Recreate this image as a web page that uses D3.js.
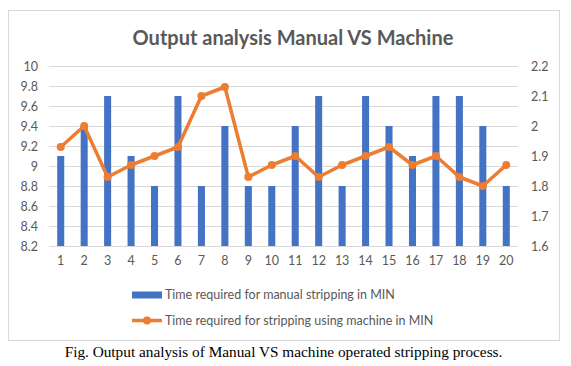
<!DOCTYPE html>
<html>
<head>
<meta charset="utf-8">
<script src="https://cdn.jsdelivr.net/npm/d3@7"></script>
<style>
  body { margin: 0; background: #fff; }
  svg { display: block; }
</style>
</head>
<body>
<div id="chart"></div>
<script>
// chart data
const categories = d3.range(1, 21).map(String);
const manualTimes = [9.1, 9.4, 9.7, 9.1, 8.8, 9.7, 8.8, 9.4, 8.8, 8.8,
                     9.4, 9.7, 8.8, 9.7, 9.4, 9.1, 9.7, 9.7, 9.4, 8.8];
const machineTimes = [1.93, 2.0, 1.83, 1.87, 1.9, 1.93, 2.1, 2.13, 1.83, 1.87,
                      1.9, 1.83, 1.87, 1.9, 1.93, 1.87, 1.9, 1.83, 1.8, 1.87];
const leftTicks = [8.2, 8.4, 8.6, 8.8, 9, 9.2, 9.4, 9.6, 9.8, 10];
const rightTicks = [1.6, 1.7, 1.8, 1.9, 2, 2.1, 2.2];
const seriesNames = ["Time required for manual stripping in MIN",
                     "Time required for stripping using machine in MIN"];
const chartTitle = "Output analysis Manual VS Machine";
const caption = "Fig. Output analysis of Manual VS machine operated stripping process.";

const W = 571, H = 366;
const plot = {left: 49, right: 518, top: 66, bottom: 246};
const blue = "#4472c4", orange = "#ed7d31", grey = "#595959", grid = "#d9d9d9";
const uiFont = "Lato, 'Open Sans', sans-serif";

const svg = d3.select("#chart").append("svg")
  .attr("width", W)
  .attr("height", H);

// chart frame
svg.append("rect")
  .attr("x", 8.5).attr("y", 10.5)
  .attr("width", 551).attr("height", 330)
  .attr("fill", "#fff")
  .attr("stroke", grid);

const x = d3.scaleBand()
  .domain(categories)
  .range([plot.left, plot.right])
  .paddingInner(0.7)
  .paddingOuter(0.35);

const yLeft = d3.scaleLinear().domain([8.2, 10]).range([plot.bottom, plot.top]);
const yRight = d3.scaleLinear().domain([1.6, 2.2]).range([plot.bottom, plot.top]);

// gridlines
svg.append("g")
  .selectAll("line")
  .data(leftTicks)
  .enter().append("line")
    .attr("x1", plot.left).attr("x2", plot.right)
    .attr("y1", d => Math.round(yLeft(d)) + 0.5)
    .attr("y2", d => Math.round(yLeft(d)) + 0.5)
    .attr("stroke", grid)
    .attr("stroke-width", 1);

// left axis
const leftAxis = svg.append("g")
  .attr("transform", `translate(${plot.left - 11},0)`)
  .call(d3.axisLeft(yLeft).tickValues(leftTicks).tickSize(0).tickPadding(0).tickFormat(d3.format("")))
  .call(g => g.select(".domain").remove());

// right axis
const rightAxis = svg.append("g")
  .attr("transform", `translate(${plot.right + 13},0)`)
  .call(d3.axisRight(yRight).tickValues(rightTicks).tickSize(0).tickPadding(0).tickFormat(d3.format("")))
  .call(g => g.select(".domain").remove());

// bottom axis
const bottomAxis = svg.append("g")
  .attr("transform", `translate(0,${plot.bottom + 10})`)
  .call(d3.axisBottom(x).tickSize(0).tickPadding(0))
  .call(g => g.select(".domain").remove());

[leftAxis, rightAxis, bottomAxis].forEach(g => g.selectAll("text")
  .attr("fill", grey)
  .style("font-family", uiFont)
  .style("font-size", "12.5px"));

// bars
svg.append("g")
  .selectAll("rect")
  .data(manualTimes)
  .enter().append("rect")
    .attr("x", (d, i) => x(categories[i]))
    .attr("y", d => yLeft(d))
    .attr("width", x.bandwidth())
    .attr("height", d => plot.bottom - yLeft(d))
    .attr("fill", blue);

// machine line
const center = i => x(categories[i]) + x.bandwidth() / 2;
const line = d3.line()
  .x((d, i) => center(i))
  .y(d => yRight(d));

svg.append("path")
  .datum(machineTimes)
  .attr("d", line)
  .attr("fill", "none")
  .attr("stroke", orange)
  .attr("stroke-width", 3.5)
  .attr("stroke-linejoin", "round")
  .attr("stroke-linecap", "round");

svg.append("g")
  .selectAll("circle")
  .data(machineTimes)
  .enter().append("circle")
    .attr("cx", (d, i) => center(i))
    .attr("cy", d => yRight(d))
    .attr("r", 4)
    .attr("fill", orange);

// title
svg.append("text")
  .attr("x", 293)
  .attr("y", 45)
  .attr("text-anchor", "middle")
  .attr("fill", grey)
  .style("font-family", uiFont)
  .style("font-size", "20px")
  .style("font-weight", "bold")
  .text(chartTitle);

// legend
const legend = svg.append("g");
const legendY = [295, 320.5];

legend.append("rect")
  .attr("x", 132).attr("y", legendY[0] - 3.5)
  .attr("width", 30).attr("height", 7)
  .attr("fill", blue);

legend.append("line")
  .attr("x1", 132).attr("x2", 162)
  .attr("y1", legendY[1]).attr("y2", legendY[1])
  .attr("stroke", orange)
  .attr("stroke-width", 3.5);

legend.append("circle")
  .attr("cx", 147).attr("cy", legendY[1])
  .attr("r", 4)
  .attr("fill", orange);

legend.selectAll("text")
  .data(seriesNames)
  .enter().append("text")
    .attr("x", 165)
    .attr("y", (d, i) => legendY[i])
    .attr("dy", "0.35em")
    .attr("fill", grey)
    .style("font-family", uiFont)
    .style("font-size", "12.5px")
    .text(d => d);

// figure caption
svg.append("text")
  .attr("x", 283.5)
  .attr("y", 357)
  .attr("text-anchor", "middle")
  .attr("fill", "#000")
  .style("font-family", "'Liberation Serif', 'Times New Roman', serif")
  .style("font-size", "15.3px")
  .text(caption);
</script>
</body>
</html>
